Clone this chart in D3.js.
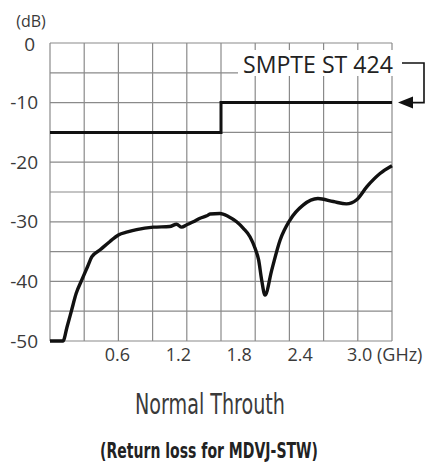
<!DOCTYPE html>
<html>
<head>
<meta charset="utf-8">
<script src="https://cdn.jsdelivr.net/npm/d3@7"></script>
<style>
  html, body { margin: 0; padding: 0; background: #fff; }
  svg { display: block; }
</style>
</head>
<body>
<svg id="chart" width="431" height="470"></svg>
<script>
// ---- data ----
const freqGHz = [0, 0.114, 0.15, 0.19, 0.23, 0.278, 0.33, 0.366, 0.44, 0.526, 0.6, 0.68, 0.76, 0.906, 1.05, 1.11, 1.155, 1.2, 1.257, 1.316, 1.375, 1.404, 1.49, 1.564, 1.637, 1.696, 1.754, 1.798, 1.83, 1.857, 1.886, 1.945, 2.018, 2.105, 2.22, 2.35, 2.485, 2.6, 2.69, 2.78, 2.895, 3.0];
const returnLossDb = [-50, -50, -47.6, -44.8, -42.0, -39.8, -37.5, -35.9, -34.7, -33.3, -32.2, -31.7, -31.3, -30.9, -30.8, -30.4, -30.9, -30.5, -30.0, -29.4, -29.0, -28.7, -28.6, -29.1, -30.0, -31.1, -32.5, -34.4, -36.4, -39.8, -42.3, -38.1, -33.1, -29.7, -27.2, -26.1, -26.6, -27.0, -26.3, -24.1, -21.9, -20.6];
const specFreqGHz = [0, 1.5, 1.5, 3.0];
const specDb = [-15, -15, -10, -10];
const xTicks = [0.6, 1.2, 1.8, 2.4, 3.0];
const xTickLabels = ["0.6", "1.2", "1.8", "2.4", "3.0 (GHz)"];
const yTicks = [0, -10, -20, -30, -40, -50];
const yTickLabels = ["0", "-10", "-20", "-30", "-40", "-50"];
const xGrid = d3.range(0, 3.0001, 0.3);
const yGrid = d3.range(0, -50.0001, -5);
const specLabel = "SMPTE ST 424";
const title = "Normal Throuth";
const subtitle = "(Return loss for MDVJ-STW)";

// ---- layout ----
const svg = d3.select("#chart");
const x = d3.scaleLinear().domain([0, 3.0]).range([50, 392]);
const y = d3.scaleLinear().domain([-50, 0]).range([341, 43]);
// tick labels in the original drift slightly left of their grid lines
const xLab = d3.scaleLinear().domain([0.6, 3.0]).range([x(0.6) - 1, x(3.0) - 31]);

const gridColor = "#8a8a8a";
const g = svg.append("g");

// grid
g.selectAll("line.vg").data(xGrid).enter().append("line")
  .attr("x1", d => x(d)).attr("x2", d => x(d))
  .attr("y1", y(0)).attr("y2", y(-50))
  .attr("stroke", gridColor).attr("stroke-width", 1.2);
g.selectAll("line.hg").data(yGrid).enter().append("line")
  .attr("x1", x(0)).attr("x2", x(3.0))
  .attr("y1", d => y(d)).attr("y2", d => y(d))
  .attr("stroke", gridColor).attr("stroke-width", 1.2);

// y tick labels
const tickFont = "'Open Sans', 'Noto Sans', sans-serif";
g.selectAll("text.yt").data(yTicks).enter().append("text")
  .attr("x", (d, i) => i === 0 ? 35 : 38).attr("y", (d, i) => y(d) + (i === 0 ? 8 : 6.5))
  .attr("text-anchor", "end")
  .attr("font-family", tickFont).attr("font-size", 19)
  .attr("fill", "#3a3a3a")
  .text((d, i) => yTickLabels[i]);

g.append("text").attr("x", 31).attr("y", 27)
  .attr("text-anchor", "middle")
  .attr("font-family", tickFont).attr("font-size", 16)
  .attr("fill", "#3a3a3a").text("(dB)");

// x tick labels
g.selectAll("text.xt").data(xTicks).enter().append("text")
  .attr("x", (d, i) => i === xTicks.length - 1 ? xLab(d) - 14 : xLab(d))
  .attr("y", 361)
  .attr("text-anchor", (d, i) => i === xTicks.length - 1 ? "start" : "middle")
  .attr("font-family", tickFont).attr("font-size", 18)
  .attr("fill", "#3a3a3a")
  .text((d, i) => xTickLabels[i]);

// spec line
const specLine = d3.line().x((d, i) => x(specFreqGHz[i])).y(d => y(d));
g.append("path").datum(specDb)
  .attr("d", specLine)
  .attr("fill", "none").attr("stroke", "#111").attr("stroke-width", 3);

// measured curve
const curve = d3.line().x((d, i) => x(freqGHz[i])).y(d => y(d)).curve(d3.curveMonotoneX);
g.append("path").datum(returnLossDb)
  .attr("d", curve)
  .attr("fill", "none").attr("stroke", "#111").attr("stroke-width", 3.4)
  .attr("stroke-linejoin", "round");

// SMPTE label with white background
g.append("rect").attr("x", 238).attr("y", 50).attr("width", 158).attr("height", 26).attr("fill", "#fff");
g.append("text").attr("x", 243).attr("y", 73)
  .attr("font-family", tickFont).attr("font-size", 24)
  .attr("textLength", 150).attr("lengthAdjust", "spacingAndGlyphs")
  .attr("fill", "#222").text(specLabel);

// leader with arrow
const ax = x(3.0);
g.append("path")
  .attr("d", `M${ax + 10},63 H${ax + 32} V${y(-10)} H${ax + 20}`)
  .attr("fill", "none").attr("stroke", "#111").attr("stroke-width", 1.6);
g.append("path")
  .attr("d", `M${ax + 6},${y(-10)} L${ax + 21},${y(-10) - 6} L${ax + 21},${y(-10) + 6} Z`)
  .attr("fill", "#111");

// titles
g.append("text").attr("x", 210).attr("y", 414)
  .attr("text-anchor", "middle")
  .attr("font-family", "'Liberation Sans Narrow', 'DejaVu Sans Condensed', sans-serif")
  .attr("font-size", 29).attr("fill", "#3a3a3a")
  .attr("textLength", 150).attr("lengthAdjust", "spacingAndGlyphs")
  .text(title);
g.append("text").attr("x", 209).attr("y", 458)
  .attr("text-anchor", "middle")
  .attr("font-family", "'Liberation Sans Narrow', 'DejaVu Sans Condensed', sans-serif")
  .attr("font-size", 22).attr("font-weight", "bold").attr("fill", "#222")
  .attr("textLength", 218).attr("lengthAdjust", "spacingAndGlyphs")
  .text(subtitle);
</script>
</body>
</html>
